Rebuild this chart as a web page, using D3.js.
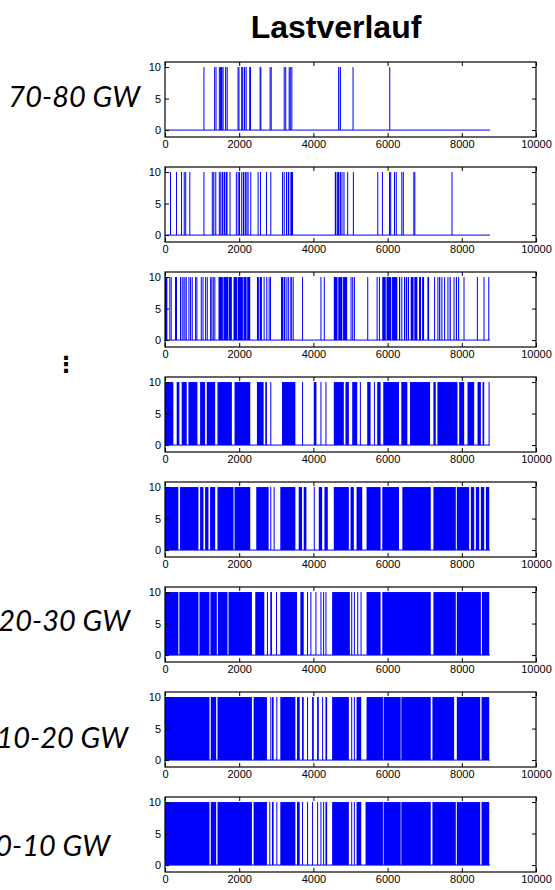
<!DOCTYPE html>
<html><head><meta charset="utf-8">
<script src="https://cdn.jsdelivr.net/npm/d3@7"></script>
<style>
html,body{margin:0;padding:0;background:#fff;}
svg{display:block;}
</style></head>
<body>
<script>
// ---------- DATA ----------
const title = "Lastverlauf";
const xTicks = [0, 2000, 4000, 6000, 8000, 10000];
const yTicks = [0, 5, 10];
const lastHour = 8760;
const onValue = 10;

// hours (start, end) where the signal is at 10, top to bottom
const band1 = [[1036,1043],[1324,1331],[1362,1372],[1451,1460],[1480,1495],[1510,1525],[1545,1580],[1620,1630],[1660,1690],[1955,1965],[1980,1991],[2054,2065],[2080,2110],[2130,2160],[2175,2190],[2270,2277],[2291,2298],[2550,2560],[2570,2577],[2820,2830],[2849,2856],[3199,3210],[3240,3253],[3334,3345],[3360,3390],[3405,3424],[4667,4700],[4715,4730],[5055,5062],[6045,6060]];
const band2 = [[135,142],[297,304],[432,440],[505,520],[545,560],[655,662],[1036,1043],[1261,1275],[1300,1330],[1355,1370],[1451,1470],[1490,1520],[1535,1570],[1585,1620],[1635,1685],[1739,1746],[1910,1930],[1960,1980],[1995,2009],[2054,2080],[2100,2140],[2160,2200],[2220,2253],[2298,2305],[2496,2520],[2560,2586],[2721,2728],[2838,2845],[3154,3175],[3200,3217],[3262,3290],[3310,3350],[3380,3451],[4577,4620],[4640,4700],[4715,4730],[4757,4775],[4810,4838],[4910,4917],[5064,5071],[5721,5728],[5847,5854],[6037,6050],[6070,6082],[6172,6190],[6220,6244],[6370,6385],[6410,6424],[6694,6710],[6720,6730],[7722,7729]];
const band3 = [[0,63],[117,124],[153,160],[270,277],[297,304],[405,412],[450,457],[496,530],[550,586],[631,638],[676,683],[721,728],[811,825],[845,856],[964,990],[1010,1036],[1081,1088],[1126,1133],[1216,1230],[1250,1261],[1288,1310],[1330,1352],[1442,1560],[1575,1700],[1715,1802],[1847,1950],[1965,2100],[2115,2200],[2215,2298],[2478,2530],[2550,2613],[2658,2665],[2730,2737],[2793,2800],[2830,2838],[3127,3180],[3195,3244],[3271,3300],[3320,3334],[3379,3420],[3440,3469],[3694,3701],[4190,4197],[4280,4287],[4550,4650],[4670,4780],[4800,4910],[5001,5008],[5046,5053],[5091,5098],[5451,5458],[5703,5710],[5766,5773],[5856,5950],[5970,6100],[6120,6262],[6307,6340],[6370,6397],[6442,6449],[6487,6530],[6550,6577],[6622,6700],[6720,6802],[6847,6900],[6930,6983],[7073,7118],[7253,7260],[7343,7350],[7388,7420],[7450,7478],[7523,7530],[7613,7640],[7670,7703],[7776,7783],[7839,7870],[7900,7929],[8046,8053],[8406,8413],[8586,8593],[8713,8720]];
const band4 = [[0,225],[315,387],[450,586],[631,874],[946,1081],[1126,1352],[1415,1802],[1874,2298],[2478,2658],[2703,2748],[2838,2845],[3154,3514],[3694,3701],[4010,4082],[4190,4197],[4325,4332],[4550,4820],[4865,4956],[5046,5181],[5253,5260],[5451,5541],[5631,5638],[5721,5811],[5883,6307],[6370,6532],[6604,7145],[7235,7298],[7343,7884],[7929,8064],[8154,8334],[8424,8514],[8559,8604],[8722,8729]];
const band5 = [[0,360],[405,901],[946,1036],[1081,1171],[1216,1352],[1415,1847],[1874,2298],[2460,2793],[2838,2845],[2928,2935],[3108,3514],[3604,3694],[3739,3811],[4010,4017],[4145,4235],[4298,4388],[4550,4956],[5001,5091],[5163,5316],[5433,5811],[5856,6307],[6397,7163],[7235,7838],[7866,8199],[8244,8334],[8379,8469],[8514,8604],[8649,8739]];
const band6 = [[0,360],[387,901],[928,1198],[1225,1397],[1424,1685],[1712,2343],[2433,2676],[2748,2755],[2838,2883],[2991,2998],[3108,3559],[3649,3739],[3829,3836],[3919,3926],[4055,4062],[4190,4197],[4262,4269],[4325,4332],[4505,4983],[5019,5026],[5091,5098],[5181,5188],[5271,5278],[5433,5811],[5856,7163],[7235,7838],[7866,8514],[8541,8739]];
const band7 = [[0,1198],[1234,1379],[1415,2343],[2388,2748],[2838,2845],[2883,2928],[3000,3007],[3108,3514],[3559,3631],[3694,3739],[3829,3836],[3964,4010],[4100,4145],[4235,4242],[4325,4370],[4505,4956],[5019,5026],[5091,5098],[5163,5289],[5433,5874],[5892,6352],[6370,7163],[7208,7793],[7866,8496],[8532,8739]];
const band8 = [[0,1198],[1234,1379],[1415,2343],[2388,2748],[2811,2818],[2883,2928],[3000,3007],[3108,3514],[3559,3631],[3694,3701],[3829,3836],[3964,3971],[4100,4107],[4190,4197],[4262,4269],[4325,4370],[4505,4956],[5019,5026],[5091,5098],[5163,5289],[5406,5874],[5892,6352],[6370,7163],[7208,7838],[7866,8496],[8532,8739]];
const bands = [band1, band2, band3, band4, band5, band6, band7, band8];

const sideLabels = ["70-80 GW", "⋮", "20-30 GW", "10-20 GW", "0-10 GW"];

// ---------- LAYOUT ----------
const W = 555, H = 890;
const panelLeft = 165, panelRight = 536;
const panelTop0 = 62, panelStep = 105, panelH = 75;
const labelPos = [
  {x: 140, y: 107, panel: 0},
  {x: 66, y: 372, panel: null},
  {x: 130, y: 631, panel: 5},
  {x: 128, y: 748, panel: 6},
  {x: 110, y: 856, panel: 7}
];

const svg = d3.select("body").append("svg").attr("width", W).attr("height", H);

svg.append("text").attr("x", 336).attr("y", 38)
  .attr("text-anchor", "middle")
  .style("font-family", "Liberation Sans, Arial, sans-serif")
  .style("font-weight", "bold").style("font-size", "32px")
  .text(title);

const x = d3.scaleLinear().domain([0, 10000]).range([panelLeft, panelRight]);

bands.forEach((data, i) => {
  const top = panelTop0 + i * panelStep;
  const y = d3.scaleLinear().domain([-1.1, 10.8]).range([top + panelH, top]);
  const g = svg.append("g");

  g.selectAll("rect.on").data(data).enter().append("rect")
    .attr("x", d => x(d[0]))
    .attr("width", d => Math.max(x(d[1]) - x(d[0]), 1))
    .attr("y", y(onValue))
    .attr("height", y(0) - y(onValue))
    .attr("fill", "#0000ff");
  g.append("line")
    .attr("x1", x(0)).attr("x2", x(lastHour))
    .attr("y1", y(0)).attr("y2", y(0))
    .attr("stroke", "#0000ff").attr("stroke-width", 1);

  const font = "Liberation Sans, Arial, sans-serif";
  const xb = g.append("g").attr("transform", `translate(0,${top + panelH})`)
    .call(d3.axisBottom(x).tickValues(xTicks).tickSizeInner(-4).tickSizeOuter(0).tickPadding(3).tickFormat(d3.format("d")));
  const xt = g.append("g").attr("transform", `translate(0,${top})`)
    .call(d3.axisTop(x).tickValues(xTicks).tickSizeInner(-4).tickSizeOuter(0).tickFormat(""));
  const yl = g.append("g").attr("transform", `translate(${panelLeft},0)`)
    .call(d3.axisLeft(y).tickValues(yTicks).tickSizeInner(-4).tickSizeOuter(0).tickPadding(4));
  const yr = g.append("g").attr("transform", `translate(${panelRight},0)`)
    .call(d3.axisRight(y).tickValues(yTicks).tickSizeInner(-4).tickSizeOuter(0).tickFormat(""));
  [xb, xt, yl, yr].forEach(a => {
    a.select(".domain").remove();
    a.selectAll("line").attr("stroke", "#000");
    a.selectAll("text").style("font-family", font).style("font-size", "11px").attr("fill", "#000");
  });
  g.append("rect").attr("x", panelLeft).attr("y", top)
    .attr("width", panelRight - panelLeft).attr("height", panelH)
    .attr("fill", "none").attr("stroke", "#000").attr("stroke-width", 1.2);
});

sideLabels.forEach((t, i) => {
  const p = labelPos[i];
  svg.append("text").attr("x", p.x).attr("y", p.y)
    .attr("text-anchor", p.panel === null ? "middle" : "end")
    .style("font-family", p.panel === null ? "DejaVu Sans, sans-serif" : "Lato, sans-serif")
    .style("font-style", p.panel === null ? "normal" : "italic")
    .style("font-weight", p.panel === null ? "bold" : "normal")
    .style("font-size", p.panel === null ? "22px" : "29px")
    .text(t);
});
</script>
</body></html>
